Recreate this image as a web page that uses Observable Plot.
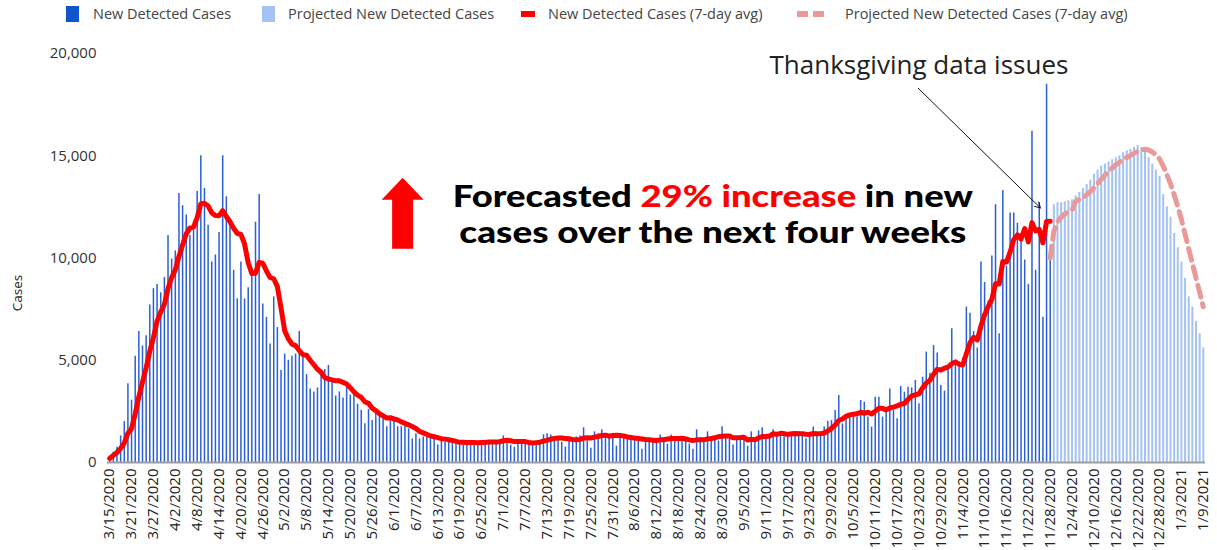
<!DOCTYPE html>
<html>
<head>
<meta charset="utf-8">
<script src="https://cdn.jsdelivr.net/npm/d3@7"></script>
<script src="https://cdn.jsdelivr.net/npm/@observablehq/plot@0.6"></script>
<style>
  body { margin: 0; background: #fff; font-family: "Open Sans", sans-serif; }
  #wrap { position: relative; width: 1217px; height: 550px; overflow: hidden; background: #fff; }
  #legend { position: relative; width: 1217px; height: 28px; }
  .sw { position: absolute; }
  .lt { position: absolute; top: 3px; font-size: 14.5px; color: #444; white-space: nowrap; line-height: 22px; }
  #chart svg { display: block; }
</style>
</head>
<body>
<div id="wrap">
  <div id="legend"></div>
  <div id="chart"></div>
</div>
<script>
// ---------------- data ----------------
const startDate = "2020-03-15";

// New detected cases per day, 3/15/2020 .. 11/28/2020
const actualCases = [
  200, 500, 750, 1300, 2000, 3850, 3050, 5200, 6400, 5700,
  6200, 7700, 8500, 8700, 8300, 9050, 11100, 9950, 10350, 13150,
  12550, 12100, 11100, 11350, 13250, 15000, 13400, 11600, 9800, 10150,
  11250, 15000, 13000, 11600, 9400, 8000, 9800, 8000, 8550, 9300,
  11750, 13100, 7750, 7100, 5800, 8100, 6600, 4500, 5300, 5000,
  5200, 5300, 6400, 5200, 4300, 3600, 3450, 3650, 4300, 4550,
  4750, 4000, 3250, 3450, 3150, 3700, 3300, 3350, 2850, 2550,
  1900, 2600, 2050, 2450, 2300, 2150, 1750, 2050, 2150, 1750,
  1750, 1800, 1650, 1150, 1400, 1150, 1250, 1250, 1250, 1350,
  850, 1050, 1000, 1050, 1000, 950, 1000, 850, 1000, 1000,
  1050, 950, 1000, 1000, 1050, 950, 1050, 1100, 1300, 1150,
  850, 750, 1000, 1050, 1050, 1000, 950, 1000, 900, 1350,
  1400, 1350, 1250, 1150, 1000, 750, 1200, 1200, 1250, 1300,
  1700, 1050, 700, 1500, 1400, 1600, 1400, 1350, 1300, 800,
  1400, 1250, 1250, 1200, 1150, 1150, 650, 1200, 1150, 1150,
  1100, 1350, 1200, 900, 1350, 1200, 1150, 1150, 1100, 900,
  650, 1600, 1200, 1150, 1500, 1200, 1150, 1050, 1750, 1250,
  1200, 850, 1250, 1200, 1150, 800, 1500, 1000, 1550, 1700,
  1200, 1300, 1600, 1300, 1350, 1450, 1400, 1450, 1400, 1500,
  1320, 1160, 1370, 1730, 1400, 1370, 1730, 2020, 2050, 2540,
  3280, 1890, 2300, 2220, 2250, 2220, 3030, 2950, 2220, 1730,
  3190, 3190, 2220, 2510, 3600, 2540, 2140, 3720, 3440, 3680,
  3650, 4010, 2870, 4170, 5400, 4370, 5720, 5350, 3770, 3490,
  4580, 6540, 4990, 4910, 5100, 7600, 7300, 6400, 5600, 9800,
  8800, 7900, 10100, 12600, 6300, 13300, 9600, 12200, 12200, 11700,
  11200, 9900, 8700, 16200, 9400, 12700, 7100, 18500, 10000
];

// Projected new detected cases per day, 11/29/2020 .. 1/9/2021
const projectedCases = [
  12600, 12700, 12700, 12750, 12800, 12850, 13050, 13200, 13400, 13600,
  13800, 14100, 14300, 14500, 14600, 14700, 14800, 14900, 15000, 15150,
  15250, 15300, 15400, 15500, 15400, 15200, 14900, 14600, 14300, 14000,
  13100, 12500, 12000, 11200, 10500, 9800, 9000, 8100, 7600, 6900, 6300, 5600
];

const tickLabels = [
  "3/15/2020", "3/21/2020", "3/27/2020", "4/2/2020", "4/8/2020", "4/14/2020", "4/20/2020",
  "4/26/2020", "5/2/2020", "5/8/2020", "5/14/2020", "5/20/2020", "5/26/2020", "6/1/2020",
  "6/7/2020", "6/13/2020", "6/19/2020", "6/25/2020", "7/1/2020", "7/7/2020", "7/13/2020",
  "7/19/2020", "7/25/2020", "7/31/2020", "8/6/2020", "8/12/2020", "8/18/2020", "8/24/2020",
  "8/30/2020", "9/5/2020", "9/11/2020", "9/17/2020", "9/23/2020", "9/29/2020", "10/5/2020",
  "10/11/2020", "10/17/2020", "10/23/2020", "10/29/2020", "11/4/2020", "11/10/2020",
  "11/16/2020", "11/22/2020", "11/28/2020", "12/4/2020", "12/10/2020", "12/16/2020",
  "12/22/2020", "12/28/2020", "1/3/2021", "1/9/2021"
];
const yTicks = [0, 5000, 10000, 15000, 20000];

const seriesLabels = [
  "New Detected Cases",
  "Projected New Detected Cases",
  "New Detected Cases (7-day avg)",
  "Projected New Detected Cases (7-day avg)"
];

const colors = { actual: "#2a5fd8", actualKey: "#1155cc", projected: "#a4c2f4", avg: "#ff0000", projAvg: "#ea9999" };

// ---------------- derived tables ----------------
const t0 = d3.utcParse("%Y-%m-%d")(startDate);
const dayAt = k => new Date(t0.getTime() + k * 864e5);
const actual = actualCases.map((v, i) => ({ date: dayAt(i), cases: v }));
const projected = projectedCases.map((v, i) => ({ date: dayAt(actualCases.length + i), cases: v }));
const projAvgInput = [actual[actual.length - 1], ...projected];
const parseTick = d3.utcParse("%m/%d/%Y");
const tickDates = tickLabels.map(parseTick);
const fmt = d3.utcFormat("%-m/%-d/%Y");
const numFmt = d3.format(",");
const nDays = actualCases.length + projectedCases.length;

// annotations (data coordinates)
const thanksNote = { date: dayAt(222), cases: 19400, text: "Thanksgiving data issues" };
const thanksArrow = { x1: dayAt(221.8), y1: 18300, x2: dayAt(255.3), y2: 12450 };
const headline = { date: dayAt(165.6), line1: 12470, line2: 10710 };
const upArrow = { date: dayAt(80.5), cases: 13900 };

// ---------------- legend ----------------
const legendLayout = [
  { kind: "box", color: colors.actualKey, sx: 66, tx: 93 },
  { kind: "box", color: colors.projected, sx: 262, tx: 288 },
  { kind: "line", color: colors.avg, sx: 521, tx: 548 },
  { kind: "dash", color: colors.projAvg, sx: 797, tx: 845 }
];
const legend = d3.select("#legend");
legendLayout.forEach((it, i) => {
  if (it.kind === "box") {
    legend.append("div").attr("class", "sw")
      .style("left", it.sx + "px").style("top", "6px").style("width", "13px").style("height", "16px")
      .style("background", it.color);
  } else if (it.kind === "line") {
    legend.append("div").attr("class", "sw")
      .style("left", it.sx + "px").style("top", "11px").style("width", "14px").style("height", "6px")
      .style("background", it.color);
  } else {
    [0, 16].forEach(o => legend.append("div").attr("class", "sw")
      .style("left", (it.sx + o) + "px").style("top", "11px").style("width", "11px").style("height", "6px")
      .style("background", it.color));
  }
  legend.append("div").attr("class", "lt").style("left", it.tx + "px").text(seriesLabels[i]);
});

// ---------------- chart ----------------
const chart = Plot.plot({
  width: 1217,
  height: 522,
  marginLeft: 107,
  marginRight: 12,
  marginTop: 25,
  marginBottom: 88,
  style: { fontFamily: '"Open Sans", sans-serif', fontSize: "15px", color: "#333", background: "#fff", overflow: "visible" },
  x: {
    type: "utc",
    domain: [dayAt(-0.6), dayAt(nDays - 1 + 0.6)],
    label: null
  },
  y: {
    domain: [0, 20000],
    label: null
  },
  marks: [
    Plot.axisX({ ticks: tickDates, tickFormat: fmt, tickRotate: -90, tickSize: 0, tickPadding: 6,
      fontSize: 15, fill: "#222", label: null }),
    Plot.axisY({ ticks: yTicks, tickFormat: numFmt, tickSize: 0, tickPadding: 11,
      fontSize: 15, fill: "#333", label: null }),
    Plot.ruleX(actual, { x: "date", y: "cases", stroke: colors.actual, strokeWidth: 1.5 }),
    Plot.ruleX(projected, { x: "date", y: "cases", stroke: colors.projected, strokeWidth: 2 }),
    Plot.ruleY([0], { stroke: "#9e9e9e", strokeWidth: 2 }),
    Plot.lineY(projAvgInput, Plot.windowY({ k: 7, anchor: "end", reduce: "mean" },
      { x: "date", y: "cases", stroke: colors.projAvg, strokeWidth: 5, strokeDasharray: "12,7" })),
    Plot.lineY(actual, Plot.windowY({ k: 7, anchor: "end", reduce: "mean" },
      { x: "date", y: "cases", stroke: colors.avg, strokeWidth: 5, strokeLinejoin: "round" })),
    Plot.text([thanksNote], { x: "date", y: "cases", text: "text", fontSize: 26, fill: "#222",
      textAnchor: "middle", lineAnchor: "middle", fontFamily: '"Open Sans", sans-serif' }),
    Plot.arrow([thanksArrow], { x1: "x1", y1: "y1", x2: "x2", y2: "y2", stroke: "#111", strokeWidth: 1, headLength: 9 }),
    Plot.text(["Cases"], { y: () => 7400, frameAnchor: "left", dx: -90, rotate: -90, fontSize: 13.5, fill: "#222" })
  ]
});
document.getElementById("chart").appendChild(chart);

// headline annotation, positioned through the chart's own scales
const xs = chart.scale("x"), ys = chart.scale("y");
const svg = d3.select(chart);
const g = svg.append("g")
  .attr("font-family", "Lato, 'Open Sans', sans-serif")
  .attr("font-weight", 900)
  .attr("font-size", 31)
  .style("white-space", "pre");
const cx = xs.apply(headline.date);
const t1 = g.append("text").attr("x", cx).attr("y", ys.apply(headline.line1))
  .attr("text-anchor", "middle").attr("textLength", 520).attr("lengthAdjust", "spacingAndGlyphs");
t1.append("tspan").attr("fill", "#000").text("Forecasted ");
t1.append("tspan").attr("fill", "#ff0000").text("29% increase");
t1.append("tspan").attr("fill", "#000").text(" in new");
g.append("text").attr("x", cx).attr("y", ys.apply(headline.line2))
  .attr("text-anchor", "middle").attr("textLength", 507).attr("lengthAdjust", "spacingAndGlyphs")
  .attr("fill", "#000").text("cases over the next four weeks");

// big red up arrow
const ax = xs.apply(upArrow.date), ay = ys.apply(upArrow.cases);
svg.append("path")
  .attr("d", `M${ax},${ay} L${ax + 21},${ay + 22} L${ax + 10.5},${ay + 22} L${ax + 10.5},${ay + 71} L${ax - 10.5},${ay + 71} L${ax - 10.5},${ay + 22} L${ax - 21},${ay + 22} Z`)
  .attr("fill", "#ff0000");
</script>
</body>
</html>
